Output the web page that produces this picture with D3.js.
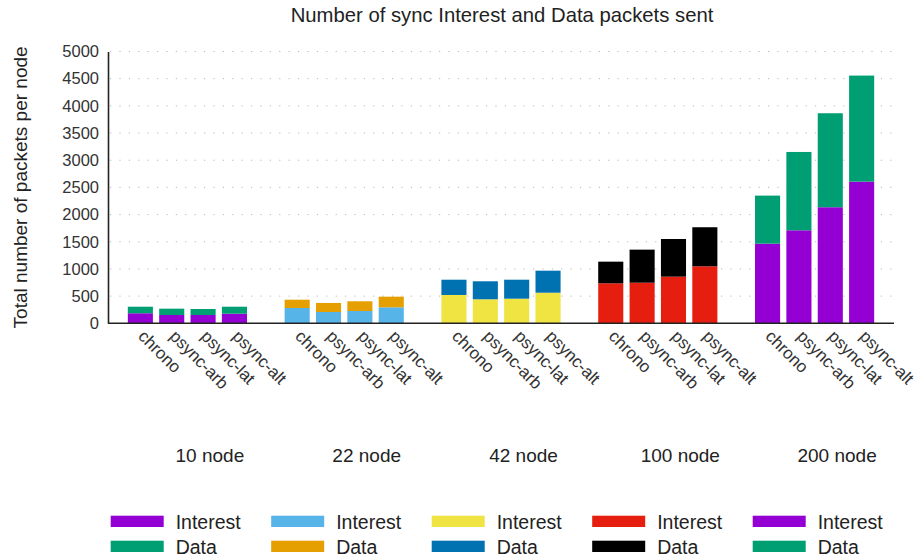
<!DOCTYPE html>
<html>
<head>
<meta charset="utf-8">
<script src="https://cdn.jsdelivr.net/npm/d3@7"></script>
<style>
  html, body { margin: 0; padding: 0; background: #fff; }
  svg { display: block; font-family: "Liberation Sans", Arial, sans-serif; }
</style>
</head>
<body>
<svg id="chart" width="917" height="560"></svg>
<script>
// Node-count scenarios (clusters) and sync protocol variants (bars)
const groups = ["10 node", "22 node", "42 node", "100 node", "200 node"];
const methods = ["chrono", "psync-arb", "psync-lat", "psync-alt"];

// Interest packets sent per node, one row per scenario, in method order
const interestPackets = [
  [185, 153, 153, 177],
  [282, 208, 226, 294],
  [521, 442, 453, 563],
  [736, 747, 858, 1049],
  [1465, 1711, 2135, 2606]
];

// Data packets sent per node, stacked above the Interest packets
const dataPackets = [
  [120, 116, 110, 128],
  [152, 166, 179, 196],
  [281, 331, 349, 405],
  [398, 608, 693, 718],
  [884, 1441, 1729, 1951]
];

const yTicks = [0, 500, 1000, 1500, 2000, 2500, 3000, 3500, 4000, 4500, 5000];

// Per-scenario colours (Interest, Data)
const interestColors = ["#9400D3", "#56B4E9", "#F0E442", "#E51E10", "#9400D3"];
const dataColors = ["#009E73", "#E69F00", "#0072B2", "#000000", "#009E73"];

const svg = d3.select("#chart");
const plotLeft = 108, plotRight = 894, plotTop = 51.5, plotBottom = 323.3;

const y = d3.scaleLinear().domain([0, 5000]).range([plotBottom, plotTop]);
const x0 = d3.scaleBand().domain(groups).range([plotLeft + 1, plotRight - 1])
  .paddingInner(0.2).paddingOuter(0.1);
const x1 = d3.scaleBand().domain(methods).range([0, x0.bandwidth()])
  .paddingInner(0.2).paddingOuter(0.1);

// Title
svg.append("text")
  .attr("x", 502).attr("y", 21.5)
  .attr("text-anchor", "middle")
  .attr("font-size", 20.3)
  .attr("fill", "#222")
  .text("Number of sync Interest and Data packets sent");

// Dotted horizontal grid
svg.append("g")
  .selectAll("line")
  .data(yTicks.filter(d => d > 0))
  .join("line")
  .attr("x1", plotLeft + 2).attr("x2", plotRight)
  .attr("y1", d => y(d)).attr("y2", d => y(d))
  .attr("stroke", "#b8b8b8")
  .attr("stroke-width", 1)
  .attr("stroke-dasharray", "1.2,8.2");

// Y axis
const yAxis = svg.append("g")
  .attr("transform", `translate(${plotLeft},0)`)
  .call(d3.axisLeft(y).tickValues(yTicks).tickSize(0).tickPadding(9).tickFormat(d3.format("d")));
yAxis.select(".domain").attr("stroke", "#222").attr("stroke-width", 1.6);
yAxis.selectAll("text")
  .attr("font-size", 16.5)
  .attr("font-family", "'Liberation Sans', Arial, sans-serif")
  .attr("fill", "#333");

svg.append("text")
  .attr("transform", `translate(27,${(plotTop + plotBottom) / 2}) rotate(-90)`)
  .attr("text-anchor", "middle")
  .attr("font-size", 19)
  .attr("fill", "#222")
  .text("Total number of packets per node");

// Stacked bars
const bars = svg.append("g");
groups.forEach((g, gi) => {
  const gx = x0(g);
  methods.forEach((m, mi) => {
    const iv = interestPackets[gi][mi];
    const dv = dataPackets[gi][mi];
    const bx = gx + x1(m);
    bars.append("rect")
      .attr("x", bx).attr("width", x1.bandwidth())
      .attr("y", y(iv)).attr("height", y(0) - y(iv))
      .attr("fill", interestColors[gi]);
    bars.append("rect")
      .attr("x", bx).attr("width", x1.bandwidth())
      .attr("y", y(iv + dv)).attr("height", y(iv) - y(iv + dv))
      .attr("fill", dataColors[gi]);
    // rotated method label under each bar
    const cx = bx + x1.bandwidth() / 2;
    svg.append("text")
      .attr("transform", `translate(${cx - 3},${plotBottom + 14}) rotate(45)`)
      .attr("font-size", 17)
      .attr("fill", "#333")
      .text(m);
  });
  // scenario label below the cluster
  svg.append("text")
    .attr("x", gx + x0.bandwidth() / 2 + 22.5)
    .attr("y", 461.5)
    .attr("text-anchor", "middle")
    .attr("font-size", 19)
    .attr("fill", "#222")
    .text(g);
});

// Bottom axis line
svg.append("line")
  .attr("x1", plotLeft).attr("x2", plotRight)
  .attr("y1", plotBottom).attr("y2", plotBottom)
  .attr("stroke", "#222").attr("stroke-width", 1.6);

// Legend: one column per scenario, Interest above Data
const legend = svg.append("g");
const legendX = d3.scaleBand().domain(groups).range([110.7, 913.2]);
groups.forEach((g, gi) => {
  const lx = legendX(g);
  [["Interest", interestColors[gi], 515.7], ["Data", dataColors[gi], 540.7]].forEach(([label, color, ly]) => {
    legend.append("rect")
      .attr("x", lx).attr("y", ly)
      .attr("width", 53).attr("height", 11.3)
      .attr("fill", color);
    legend.append("text")
      .attr("x", lx + 65).attr("y", ly + 12.8)
      .attr("font-size", 19.5)
      .attr("fill", "#222")
      .text(label);
  });
});
</script>
</body>
</html>
